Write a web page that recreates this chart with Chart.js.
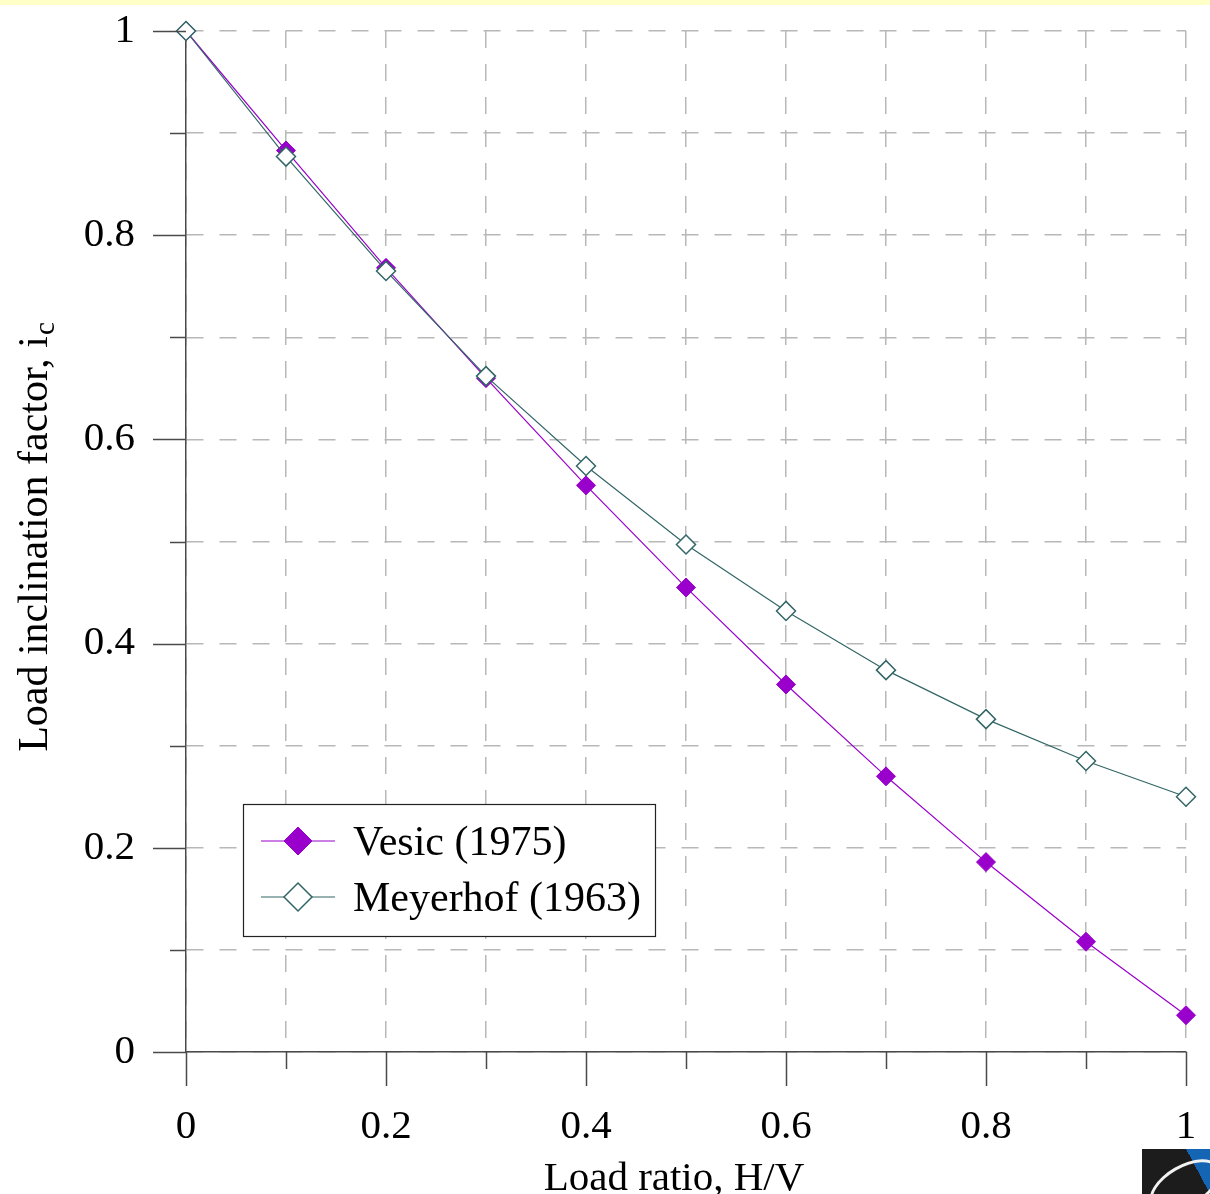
<!DOCTYPE html>
<html>
<head>
<meta charset="utf-8">
<title>Load inclination factor</title>
<script src="https://cdn.jsdelivr.net/npm/chart.js@4.4.1/dist/chart.umd.min.js"></script>
<style>
  body { margin: 0; background: #fff; }
  #wrap { position: relative; width: 1210px; height: 1194px; overflow: hidden; }
  #strip { position: absolute; left: 0; top: 0; width: 1210px; height: 5px; background: #ffffc8; }
  #logo {
    position: absolute; left: 1142px; top: 1149px; width: 68px; height: 45px; overflow: hidden;
    background: linear-gradient(62deg, #1c1c1c 0%, #1c1c1c 74%, #1565b5 74%, #1565b5 100%);
  }
  #logo span {
    position: absolute; left: 4px; top: 16px; width: 72px; height: 36px;
    border: 3px solid #f2f2f2; border-radius: 50%; transform: rotate(-30deg);
  }
</style>
</head>
<body>
<div id="wrap">
  <canvas id="myChart" width="1210" height="1194"></canvas>
  <div id="strip"></div>
  <div id="logo"><span></span></div>
</div>
<script>
// H/V load ratio and inclination factor i_c for the two methods
const loadRatio = [0, 0.1, 0.2, 0.3, 0.4, 0.5, 0.6, 0.7, 0.8, 0.9, 1];
const vesic = [1, 0.883, 0.768, 0.660, 0.555, 0.455, 0.360, 0.270, 0.186, 0.108, 0.036];
const meyerhof = [1, 0.877, 0.765, 0.662, 0.574, 0.497, 0.432, 0.374, 0.326, 0.285, 0.250];
const xTickLabels = ['0', '0.2', '0.4', '0.6', '0.8', '1'];
const yTickLabels = ['0', '0.2', '0.4', '0.6', '0.8', '1'];

const purple = 'rgb(153, 0, 204)';
const teal = '#336666';
const axisColor = '#4a4a4a';
const gridColor = '#b8b8b8';
const serif = '"Liberation Serif", "Times New Roman", serif';
const fontSize = 41;
const bigFont = 42;

const toPoints = (vals) => loadRatio.map((r, i) => ({x: r, y: vals[i]}));
// every other 0.1 step carries a label and a long tick
const isMajor = (v) => Math.round(v * 10) % 2 === 0;
const labelFor = (list) => (v) => isMajor(v) ? list[Math.round(v * 5)] : '';

// keep the plot box fixed, labels may hang over its edges
const fixSize = (prop, size) => (scale) => {
  scale[prop] = size;
  scale.paddingTop = scale.paddingBottom = scale.paddingLeft = scale.paddingRight = 0;
};

const axisMarks = {
  id: 'axisMarks',
  afterDraw(chart) {
    const {ctx, chartArea} = chart;
    const x = chart.scales.x;
    const y = chart.scales.y;
    ctx.save();
    ctx.strokeStyle = axisColor;
    ctx.lineWidth = 1.5;
    ctx.beginPath();
    x.ticks.forEach(t => {
      const px = Math.round(x.getPixelForValue(t.value)) + 0.5;
      const len = isMajor(t.value) ? 34 : 17;
      ctx.moveTo(px, chartArea.bottom);
      ctx.lineTo(px, chartArea.bottom + len);
    });
    y.ticks.forEach(t => {
      const py = Math.round(y.getPixelForValue(t.value)) + 0.5;
      const len = isMajor(t.value) ? 33 : 16;
      ctx.moveTo(chartArea.left, py);
      ctx.lineTo(chartArea.left - len, py);
    });
    ctx.stroke();

    // axis titles
    ctx.fillStyle = '#000';
    ctx.font = fontSize + 'px ' + serif;
    ctx.textAlign = 'center';
    ctx.textBaseline = 'alphabetic';
    ctx.fillText('Load ratio, H/V', (chartArea.left + chartArea.right) / 2 - 12, 1190);

    const main = 'Load inclination factor, i';
    const subFont = Math.round(bigFont * 0.68) + 'px ' + serif;
    ctx.font = bigFont + 'px ' + serif;
    const mainW = ctx.measureText(main).width;
    ctx.font = subFont;
    const subW = ctx.measureText('c').width;
    ctx.save();
    ctx.translate(47, (chartArea.top + chartArea.bottom) / 2);
    ctx.rotate(-Math.PI / 2);
    ctx.textAlign = 'left';
    const start = -(mainW + subW) / 2 + 4;
    ctx.font = bigFont + 'px ' + serif;
    ctx.fillText(main, start, 0);
    ctx.font = subFont;
    ctx.fillText('c', start + mainW + 1, 7);
    ctx.restore();

    // legend box with line + marker samples
    const box = {left: 243.5, top: 804.5, w: 412, h: 132};
    ctx.fillStyle = '#fff';
    ctx.fillRect(box.left, box.top, box.w, box.h);
    ctx.strokeStyle = '#222';
    ctx.lineWidth = 1.2;
    ctx.strokeRect(box.left, box.top, box.w, box.h);
    const rows = [chart.data.datasets[1], chart.data.datasets[0]];
    rows.forEach((ds, i) => {
      const cy = 841 + i * 56;
      ctx.strokeStyle = ds.borderColor;
      ctx.lineWidth = ds.borderWidth;
      ctx.beginPath();
      ctx.moveTo(261, cy);
      ctx.lineTo(335, cy);
      ctx.stroke();
      ctx.fillStyle = ds.pointBackgroundColor;
      ctx.strokeStyle = ds.pointBorderColor;
      ctx.lineWidth = ds.pointBorderWidth;
      Chart.helpers.drawPoint(ctx, {pointStyle: 'rectRot', radius: 14, borderWidth: ds.pointBorderWidth}, 298, cy);
      ctx.fillStyle = '#000';
      ctx.font = bigFont + 'px ' + serif;
      ctx.textAlign = 'left';
      ctx.fillText(ds.label, 353, cy + 14);
    });
    ctx.restore();
  }
};

const ctx = document.getElementById('myChart').getContext('2d');

const displayChart = new Chart(ctx, {
  type: 'line',
  data: {
    datasets: [{
      label: 'Meyerhof (1963)',
      data: toPoints(meyerhof),
      order: 0,
      borderColor: teal,
      borderWidth: 1.2,
      pointStyle: 'rectRot',
      pointRadius: 9.5,
      pointBackgroundColor: '#fff',
      pointBorderColor: teal,
      pointBorderWidth: 1.5,
      fill: false,
      tension: 0,
      clip: false
    }, {
      label: 'Vesic (1975)',
      data: toPoints(vesic),
      order: 1,
      borderColor: purple,
      borderWidth: 1.2,
      pointStyle: 'rectRot',
      pointRadius: 9.5,
      pointBackgroundColor: purple,
      pointBorderColor: purple,
      pointBorderWidth: 1,
      fill: false,
      tension: 0,
      clip: false
    }]
  },
  options: {
    responsive: false,
    animation: false,
    devicePixelRatio: 1,
    layout: {padding: {top: 31, right: 24, left: 0, bottom: 0}},
    plugins: {legend: {display: false}, tooltip: {enabled: false}},
    scales: {
      x: {
        type: 'linear',
        min: 0,
        max: 1,
        afterFit: fixSize('height', 142),
        border: {display: true, color: axisColor, width: 1.5, dash: [17, 16]},
        grid: {color: gridColor, lineWidth: 1.5, drawTicks: false},
        ticks: {
          stepSize: 0.1,
          autoSkip: false,
          maxRotation: 0,
          padding: 51,
          color: '#000',
          font: {family: serif, size: fontSize},
          callback: labelFor(xTickLabels)
        }
      },
      y: {
        type: 'linear',
        min: 0,
        max: 1,
        afterFit: fixSize('width', 186),
        border: {display: true, color: axisColor, width: 1.5, dash: [17, 16]},
        grid: {color: gridColor, lineWidth: 1.5, drawTicks: false},
        ticks: {
          stepSize: 0.1,
          autoSkip: false,
          padding: 51,
          color: '#000',
          font: {family: serif, size: fontSize},
          callback: labelFor(yTickLabels)
        }
      }
    }
  },
  plugins: [axisMarks]
});
</script>
</body>
</html>
